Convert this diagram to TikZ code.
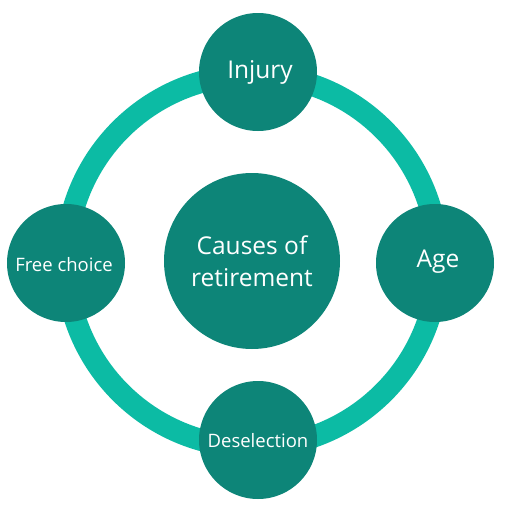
\documentclass[tikz,border=0pt]{standalone}
\usepackage{fontspec}
\setmainfont{Open Sans}
\definecolor{dark}{HTML}{0D8578}
\definecolor{ringc}{HTML}{0CBBA4}
\tikzset{
  sat/.style={circle, fill=dark, minimum size=118pt, inner sep=0pt, text=white, align=center},
  big/.style={circle, fill=dark, minimum size=176pt, inner sep=0pt, text=white, align=center},
  lbl/.style={text=white, inner sep=0pt, anchor=center}
}
\begin{document}
\begin{tikzpicture}[x=1pt,y=-1pt]
\useasboundingbox (0,0) rectangle (512,514);
\fill[white] (0,0) rectangle (512,514);
\draw[ringc, line width=22pt] (252,261) circle (186);
\node[big] (c) at (252,261) {};
\node[sat] (inj) at (258,72) {};
\node[sat] (age) at (435,263) {};
\node[sat] (fc) at (66,263) {};
\node[sat] (des) at (258,440) {};
\node[lbl, font=\fontsize{24.5}{32}\selectfont, align=center] at (252,261) {Causes of\\retirement};
\node[lbl, font=\fontsize{24.5}{28}\selectfont] at (260,72) {Injury};
\node[lbl, font=\fontsize{24.5}{28}\selectfont] at (438,262) {Age};
\node[lbl, font=\fontsize{18.5}{22}\selectfont] at (64,265) {Free choice};
\node[lbl, font=\fontsize{18.5}{22}\selectfont] at (258,441) {Deselection};
\end{tikzpicture}
\end{document}
